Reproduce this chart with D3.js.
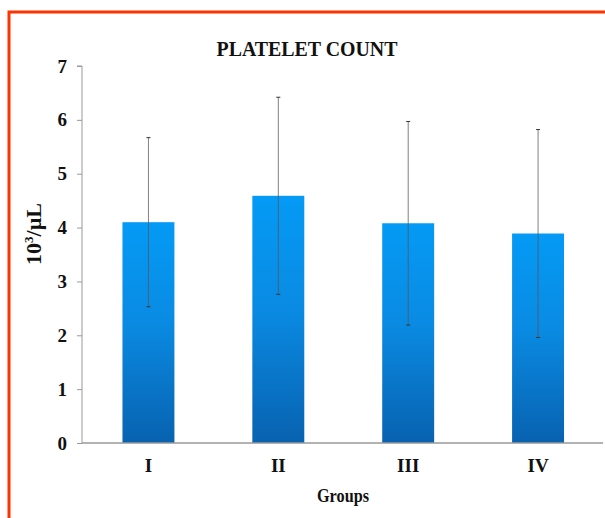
<!DOCTYPE html>
<html>
<head>
<meta charset="utf-8">
<script src="https://cdn.jsdelivr.net/npm/d3@7"></script>
<style>
  html, body { margin: 0; padding: 0; background: #fff; }
  svg { display: block; }
  svg text { font-family: "Liberation Serif", "DejaVu Serif", "Times New Roman", Times, serif; font-weight: bold; fill: #111; }
</style>
</head>
<body>
<svg id="chart" width="605" height="518"></svg>
<script>
// Platelet count per group (mean ± SD, 10³/µL)
const groups = ["I", "II", "III", "IV"];
const means = [4.10, 4.59, 4.08, 3.89];
const sds = [1.57, 1.83, 1.89, 1.93];
const yTicks = [0, 1, 2, 3, 4, 5, 6, 7];

const svg = d3.select("#chart");
const W = 605, H = 518;
const margin = { left: 82, right: 2, top: 66, bottom: 75 };

// frame around the figure
svg.append("path")
  .attr("d", `M9,${H} L9,12 L${W},12`)
  .attr("fill", "none")
  .attr("stroke", "#ff3300")
  .attr("stroke-width", 3);

const x = d3.scaleBand()
  .domain(groups)
  .range([margin.left + 1.5, W - margin.right])
  .paddingInner(0.6)
  .paddingOuter(0.3);

const y = d3.scaleLinear()
  .domain([0, 7])
  .range([H - margin.bottom, margin.top]);

const defs = svg.append("defs");
const grad = defs.append("linearGradient")
  .attr("id", "barFill")
  .attr("x1", "0").attr("y1", "0")
  .attr("x2", "0").attr("y2", "1");
grad.append("stop").attr("offset", "0%").attr("stop-color", "#049af5");
grad.append("stop").attr("offset", "45%").attr("stop-color", "#0a8be3");
grad.append("stop").attr("offset", "100%").attr("stop-color", "#0862b0");

const data = groups.map((g, i) => ({ g, m: means[i], sd: sds[i] }));

// bars
svg.append("g").selectAll("rect")
  .data(data)
  .join("rect")
  .attr("x", d => x(d.g))
  .attr("y", d => y(d.m))
  .attr("width", x.bandwidth())
  .attr("height", d => y(0) - y(d.m))
  .attr("fill", "url(#barFill)");

// error bars
const eb = svg.append("g");
eb.selectAll("line.whisker")
  .data(data)
  .join("line")
  .attr("class", "whisker")
  .attr("x1", d => x(d.g) + x.bandwidth() / 2)
  .attr("x2", d => x(d.g) + x.bandwidth() / 2)
  .attr("y1", d => y(d.m + d.sd))
  .attr("y2", d => y(d.m - d.sd))
  .attr("stroke", "#555")
  .attr("stroke-opacity", 0.75)
  .attr("stroke-width", 1);
eb.selectAll("line.cap")
  .data(data.flatMap(d => [d.m + d.sd, d.m - d.sd].map(v => ({ g: d.g, v }))))
  .join("line")
  .attr("class", "cap")
  .attr("x1", d => x(d.g) + x.bandwidth() / 2 - 2)
  .attr("x2", d => x(d.g) + x.bandwidth() / 2 + 2)
  .attr("y1", d => y(d.v))
  .attr("y2", d => y(d.v))
  .attr("stroke", "#333")
  .attr("stroke-width", 1);

// y axis
const yAxis = svg.append("g")
  .attr("transform", `translate(${margin.left},0)`)
  .call(d3.axisLeft(y).tickValues(yTicks).tickFormat(d3.format("d")).tickSize(5).tickPadding(10));
yAxis.attr("font-family", null).attr("font-size", null);
yAxis.select(".domain").attr("stroke", "#999").attr("d", `M-5,${y(7)}H0V${y(0)}`);
yAxis.selectAll(".tick line").attr("stroke", "#999");
yAxis.selectAll(".tick text")
  .attr("fill", "#111")
  .style("font-size", "19px");

// x axis
const xAxis = svg.append("g")
  .attr("transform", `translate(0,${y(0)})`)
  .call(d3.axisBottom(x).tickSize(0).tickPadding(16));
xAxis.attr("font-family", null).attr("font-size", null);
xAxis.select(".domain").attr("stroke", "#999").attr("stroke-width", 1.5)
  .attr("d", `M${margin.left},0H${W - 2}`);
xAxis.selectAll(".tick text")
  .attr("fill", "#111")
  .style("font-size", "19px");

// title
svg.append("text")
  .attr("x", 307)
  .attr("y", 56)
  .attr("text-anchor", "middle")
  .style("font-size", "22px")
  .attr("textLength", 181)
  .attr("lengthAdjust", "spacingAndGlyphs")
  .text("PLATELET COUNT");

// axis titles
svg.append("text")
  .attr("x", 343)
  .attr("y", 502)
  .attr("text-anchor", "middle")
  .style("font-size", "19px")
  .attr("textLength", 52)
  .attr("lengthAdjust", "spacingAndGlyphs")
  .text("Groups");

const yLab = svg.append("text")
  .attr("transform", `translate(41,234) rotate(-90)`)
  .attr("text-anchor", "middle")
  .style("font-size", "22px");
yLab.append("tspan").text("10");
yLab.append("tspan").attr("dy", -8).style("font-size", "13px").text("3");
yLab.append("tspan").attr("dy", 8).text("/µL");
</script>
</body>
</html>
